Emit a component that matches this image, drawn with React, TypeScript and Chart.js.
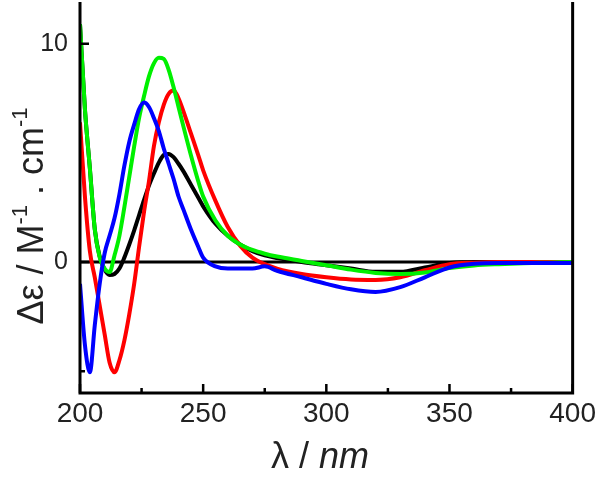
import React, { useEffect, useRef } from 'react';
import Chart from 'chart.js/auto';

const wavelengths = [200, 202, 204, 206, 208, 210, 212, 214, 216, 218, 220, 222, 224, 226, 228, 230, 232, 234, 236, 238, 240, 242, 245, 248, 250, 255, 260, 265, 270, 275, 280, 290, 300, 310, 320, 330, 340, 350, 360, 370, 380, 390, 400];
const blackValues = [10.9, 7.0, 4.3, 1.5, 0.25, -0.35, -0.6, -0.55, -0.3, 0.2, 0.8, 1.45, 2.15, 2.85, 3.5, 4.05, 4.55, 4.9, 4.95, 4.8, 4.5, 4.15, 3.55, 2.95, 2.55, 1.75, 1.2, 0.8, 0.5, 0.3, 0.18, 0.0, -0.15, -0.3, -0.45, -0.45, -0.25, -0.05, 0, 0, 0, 0, 0];
const redValues = [6.4, 3.0, 0.5, -0.7, -2.0, -3.3, -4.6, -5.05, -4.5, -3.6, -2.4, -1.0, 0.7, 2.3, 3.7, 5.3, 6.4, 7.2, 7.7, 7.85, 7.5, 6.9, 5.9, 4.9, 4.2, 2.8, 1.6, 0.75, 0.2, -0.1, -0.3, -0.55, -0.7, -0.8, -0.82, -0.7, -0.38, -0.1, -0.03, 0, 0, 0, 0];
const greenValues = [10.9, 7.0, 4.3, 1.5, 0.2, -0.3, -0.46, 0.3, 1.2, 2.5, 3.9, 5.3, 6.6, 7.6, 8.5, 9.1, 9.35, 9.3, 8.8, 8.0, 7.1, 6.2, 4.9, 3.7, 3.0, 1.9, 1.2, 0.8, 0.55, 0.38, 0.25, 0.05, -0.15, -0.35, -0.5, -0.55, -0.48, -0.28, -0.16, -0.1, -0.06, -0.03, 0];
const blueValues = [-1.0, -3.8, -5.05, -2.9, -1.0, 0.4, 1.2, 2.0, 3.1, 4.4, 5.5, 6.3, 7.0, 7.3, 7.1, 6.6, 6.0, 5.2, 4.5, 3.8, 3.0, 2.4, 1.5, 0.7, 0.2, -0.2, -0.3, -0.3, -0.3, -0.2, -0.4, -0.7, -1.0, -1.25, -1.37, -1.15, -0.7, -0.25, -0.08, -0.05, -0.05, -0.05, -0.05];

const xTickValues = [200, 250, 300, 350, 400];
const xMinorTickValues = [225, 275, 325, 375];
const yTickValues = [0, 10];
const yMinorTickValues = [-5];

const FONT = '"Liberation Sans", Arial, sans-serif';

type Seg = { t: string; font: string; dy: number };

function drawRich(ctx: CanvasRenderingContext2D, segs: Seg[], cx: number, y: number) {
  let total = 0;
  const widths = segs.map((s) => {
    ctx.font = s.font;
    const w = ctx.measureText(s.t).width;
    total += w;
    return w;
  });
  let x = cx - total / 2;
  ctx.textAlign = 'left';
  ctx.textBaseline = 'alphabetic';
  segs.forEach((s, i) => {
    ctx.font = s.font;
    ctx.fillText(s.t, x, y + s.dy);
    x += widths[i];
  });
}

export default function App() {
  const ref = useRef<HTMLCanvasElement>(null);
  useEffect(() => {
    const canvas = ref.current!;
    const toPts = (vals: number[]) => wavelengths.map((x, i) => ({ x, y: vals[i] }));

    const framePlugin = {
      id: 'frame',
      beforeDatasetsDraw(chart: any) {
        const { ctx, chartArea, scales } = chart;
        const y0 = scales.y.getPixelForValue(0);
        ctx.save();
        ctx.strokeStyle = '#000';
        ctx.lineWidth = 3;
        ctx.beginPath();
        ctx.moveTo(chartArea.left, y0);
        ctx.lineTo(chartArea.right, y0);
        ctx.stroke();
        ctx.restore();
      },
      afterDatasetsDraw(chart: any) {
        const { ctx, chartArea, scales } = chart;
        const { left, right, bottom } = chartArea;
        const top = chartArea.top + 2;
        ctx.save();
        ctx.strokeStyle = '#000';
        ctx.lineWidth = 3;
        ctx.lineCap = 'butt';
        ctx.beginPath();
        ctx.moveTo(left, top);
        ctx.lineTo(left, bottom);
        ctx.lineTo(right, bottom);
        ctx.lineTo(right, top);
        ctx.stroke();
        ctx.lineWidth = 2.5;
        ctx.beginPath();
        xTickValues.forEach((v) => {
          const px = scales.x.getPixelForValue(v);
          ctx.moveTo(px, bottom);
          ctx.lineTo(px, bottom - 9);
        });
        xMinorTickValues.forEach((v) => {
          const px = scales.x.getPixelForValue(v);
          ctx.moveTo(px, bottom);
          ctx.lineTo(px, bottom - 5);
        });
        yTickValues.forEach((v) => {
          const py = scales.y.getPixelForValue(v);
          ctx.moveTo(left, py);
          ctx.lineTo(left + 9, py);
        });
        yMinorTickValues.forEach((v) => {
          const py = scales.y.getPixelForValue(v);
          ctx.moveTo(left, py);
          ctx.lineTo(left + 5, py);
        });
        ctx.stroke();
        ctx.restore();
      },
      afterDraw(chart: any) {
        const { ctx } = chart;
        ctx.save();
        ctx.fillStyle = '#222';
        drawRich(ctx, [
          { t: 'λ / ', font: `36px ${FONT}`, dy: 0 },
          { t: 'nm', font: `italic 36px ${FONT}`, dy: 0 },
        ], 320, 468);
        ctx.translate(43, 216);
        ctx.rotate(-Math.PI / 2);
        drawRich(ctx, [
          { t: 'Δε / M', font: `36px ${FONT}`, dy: 0 },
          { t: '-1', font: `22px ${FONT}`, dy: -16 },
          { t: ' . cm', font: `36px ${FONT}`, dy: 0 },
          { t: '-1', font: `22px ${FONT}`, dy: -16 },
        ], 0, 0);
        ctx.restore();
      },
    };

    const mk = (label: string, vals: number[], color: string) => ({
      label,
      data: toPts(vals),
      borderColor: color,
      backgroundColor: color,
      borderWidth: 4,
      pointRadius: 0,
      cubicInterpolationMode: 'monotone' as const,
      fill: false,
    });

    // Chart.js paints the first dataset on top, so black (bottom layer) comes last.
    const chart = new Chart(canvas, {
      type: 'line',
      data: {
        datasets: [
          mk('blue', blueValues, '#0000ff'),
          mk('green', greenValues, '#00f000'),
          mk('red', redValues, '#ff0000'),
          mk('black', blackValues, '#000000'),
        ],
      },
      options: {
        responsive: false,
        animation: false,
        layout: { padding: { left: 0, right: 25, top: 0, bottom: 0 } },
        plugins: { legend: { display: false }, tooltip: { enabled: false } },
        scales: {
          x: {
            type: 'linear',
            min: 200,
            max: 400,
            grid: { display: false, drawTicks: false },
            border: { display: false },
            afterBuildTicks: (scale: any) => {
              scale.ticks = xTickValues.map((v) => ({ value: v }));
            },
            afterFit: (scale: any) => {
              scale.height = 85;
            },
            ticks: {
              color: '#222',
              padding: 4,
              font: { family: FONT, size: 28 },
              maxRotation: 0,
              callback: (v: any) => String(v),
            },
          },
          y: {
            type: 'linear',
            min: -6,
            max: 12,
            grid: { display: false, drawTicks: false },
            border: { display: false },
            afterBuildTicks: (scale: any) => {
              scale.ticks = yTickValues.map((v) => ({ value: v }));
            },
            afterFit: (scale: any) => {
              scale.width = 80;
              scale.paddingTop = 0;
              scale.paddingBottom = 0;
            },
            ticks: {
              color: '#222',
              padding: 12,
              font: { family: FONT, size: 25 },
              callback: (v: any) => String(v),
            },
          },
        },
      },
      plugins: [framePlugin],
    });
    return () => chart.destroy();
  }, []);
  return (
    <div style={{ position: 'fixed', left: 0, top: 0, width: 600, height: 478, background: '#fff' }}>
      <canvas ref={ref} width={600} height={478} style={{ display: 'block' }} />
    </div>
  );
}
